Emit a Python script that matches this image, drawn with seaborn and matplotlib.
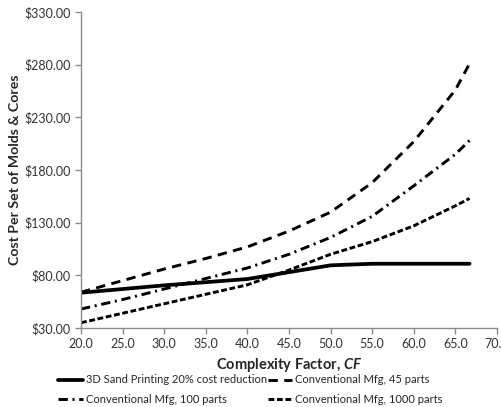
import pandas as pd
import matplotlib
matplotlib.use('Agg')
import matplotlib.pyplot as plt
import matplotlib.ticker as mtick
import seaborn as sns

# valores
fator_cf = [20, 25, 30, 35, 40, 45, 50, 55, 60, 65, 66.7]
custo_3d = [63.5, 67, 70.5, 73.5, 76.5, 83, 89.5, 91, 91, 91, 91]
custo_45 = [64, 75, 86, 96, 107, 122, 140, 168, 207, 256, 281]
custo_100 = [48, 57, 67, 77, 87, 100, 116, 136, 165, 195, 208]
custo_1000 = [35, 44, 53, 62, 71, 85, 100, 112, 127, 146, 153]

nomes_series = [
    '3D Sand Printing 20% cost reduction',
    'Conventional Mfg, 45 parts',
    'Conventional Mfg, 100 parts',
    'Conventional Mfg, 1000 parts',
]

df = pd.concat([
    pd.DataFrame({'cf': fator_cf, 'custo': valores, 'serie': nome})
    for nome, valores in zip(nomes_series, [custo_3d, custo_45, custo_100, custo_1000])
])

sns.set_style('ticks')
plt.rcParams['font.family'] = ['Lato', 'DejaVu Sans']
plt.rcParams['mathtext.fontset'] = 'custom'
plt.rcParams['mathtext.bfit'] = 'Lato:bold:italic'

cinza_eixo = '#8C8C8C'
tracos = {
    nomes_series[0]: '',
    nomes_series[1]: (3.2, 2.2),
    nomes_series[2]: (3.2, 1.6, 0.7, 1.6),
    nomes_series[3]: (2.0, 0.9),
}

fig = plt.figure(figsize=(5.01, 4.07), dpi=100)
ax = fig.add_axes([81 / 501, 1 - 328 / 407, 416 / 501, 316 / 407])

sns.lineplot(
    data=df, x='cf', y='custo', style='serie', style_order=nomes_series,
    dashes=tracos, color='black', linewidth=2.1, sort=False,
    errorbar=None, legend=False, ax=ax
)
ax.get_lines()[0].set_linewidth(2.7)

ax.set_xlim(20, 70)
ax.set_ylim(30, 330)
ax.set_xticks(range(20, 71, 5))
ax.set_yticks(range(30, 331, 50))
ax.xaxis.set_major_formatter(mtick.FormatStrFormatter('%.1f'))
ax.yaxis.set_major_formatter(mtick.FormatStrFormatter('$%.2f'))
ax.tick_params(axis='both', labelsize=9, colors=cinza_eixo, labelcolor='#333333',
               length=4, width=1)

for lado in ['left', 'bottom']:
    ax.spines[lado].set_color(cinza_eixo)
    ax.spines[lado].set_linewidth(1)
sns.despine(ax=ax, top=True, right=True)

ax.set_xlabel(r'Complexity Factor, $\mathbfit{CF}$', fontsize=10.5, fontweight='bold', labelpad=4)
ax.set_ylabel('Cost Per Set of Molds & Cores', fontsize=10.2, fontweight='bold', labelpad=2)

linhas = ax.get_lines()
ordem = [0, 2, 1, 3]
fig.legend(
    [linhas[i] for i in ordem], [nomes_series[i] for i in ordem],
    ncol=2, loc='upper left', bbox_to_anchor=(54 / 501, 1 - 370 / 407),
    frameon=False, fontsize=8.0, handlelength=2.2, handletextpad=0.25,
    columnspacing=0.1, labelspacing=0.8, borderaxespad=0
)

fig.savefig('out.png', dpi=100)
